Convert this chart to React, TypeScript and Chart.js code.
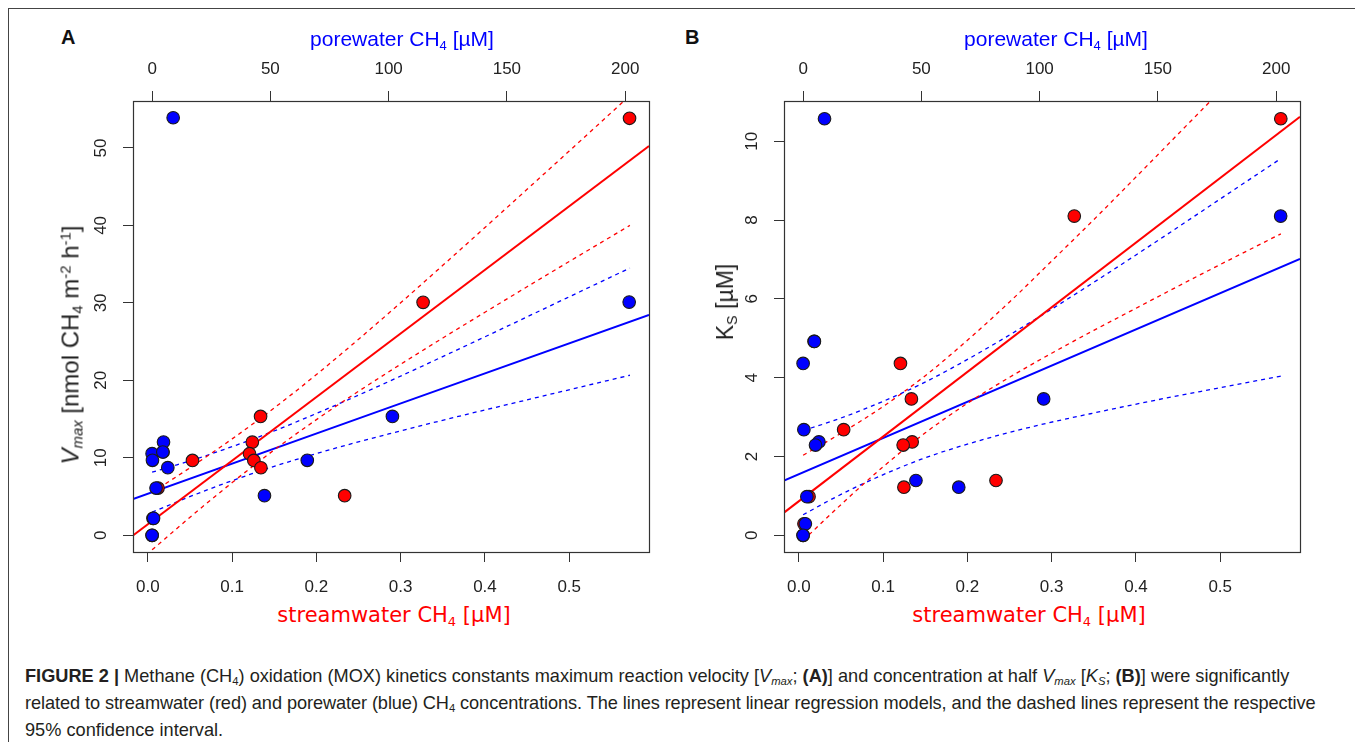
import React, { useEffect, useRef } from "react";
import { Chart, registerables } from "chart.js";

Chart.register(...registerables);

const FONT = "'Liberation Sans', Arial, Helvetica, sans-serif";
const DEJAVU = "'DejaVu Sans', Verdana, sans-serif";
const RED = "#ff0000";
const BLUE = "#0000ff";
const INK = "#222222";

// ---------- axis ranges ----------
const streamRange = [-0.0177, 0.5947];
const poreRange = [-8.08, 210.08];
const vmaxRange = [-2.156, 56.06];
const ksRange = [-0.424, 11.02];

// ---------- Panel A : Vmax ----------
const redStreamA = [0.0529, 0.1239, 0.1206, 0.1257, 0.1341, 0.1337, 0.2335, 0.3266, 0.5716, 0.018, 0.012, 0.006, 0.005];
const redVmaxA = [9.66, 12.02, 10.53, 9.66, 8.72, 15.34, 5.11, 30.07, 53.83, 10.75, 6.1, 2.19, 0];
const bluePoreA = [0, 0.15, 4.82, 4.52, 6.63, 1.66, 0.6, 0, 47.5, 65.6, 101.6, 8.9, 201.7];
const blueVmaxA = [10.54, 9.68, 12.04, 10.75, 8.73, 6.1, 2.19, 0, 5.12, 9.68, 15.35, 53.9, 30.1];

// regression lines (values at the two plot edges)
const redFitA = [-0.03, 50.24];
const blueFitA = [4.68, 28.46];

// 95% confidence bands
const streamCIx = [0.005, 0.05, 0.1, 0.15, 0.2, 0.25, 0.3, 0.35, 0.4, 0.45, 0.5, 0.572];
const poreCIx = [0, 10, 25, 50, 75, 100, 125, 150, 175, 202];
const redUpA = [5.54, 8.72, 12.45, 16.45, 20.75, 25.31, 30.02, 34.85, 39.73, 44.66, 49.6, 56.76];
const redLoA = [-1.88, 2.33, 6.81, 11.03, 14.93, 18.59, 22.08, 25.47, 28.79, 32.08, 35.34, 40.0];
const blueUpA = [8.14, 9.05, 10.51, 13.28, 16.45, 19.84, 23.37, 26.96, 30.59, 34.5];
const blueLoA = [2.98, 4.25, 6.06, 8.74, 11.03, 13.08, 15.01, 16.86, 18.69, 20.66];

// ---------- Panel B : Ks ----------
const redStreamB = [0.1205, 0.1335, 0.0531, 0.1344, 0.1237, 0.1246, 0.2339, 0.3268, 0.5719, 0.018, 0.012, 0.006, 0.005];
const redKsB = [4.36, 3.46, 2.68, 2.37, 2.29, 1.22, 1.39, 8.1, 10.57, 4.92, 0.98, 0.29, 0];
const bluePoreB = [4.77, 0, 0.32, 6.67, 5.24, 1.59, 0.95, 0, 47.7, 65.8, 101.7, 9.05, 201.9];
const blueKsB = [4.92, 4.36, 2.68, 2.37, 2.29, 0.98, 0.29, 0, 1.39, 1.22, 3.46, 10.57, 8.1];

const redFitB = [0.576, 10.62];
const blueFitB = [1.386, 7.01];

const redUpB = [2.03, 2.59, 3.27, 4.05, 4.95, 5.92, 6.96, 8.01, 9.09, 10.18, 11.27, 12.85];
const redLoB = [-0.13, 0.78, 1.74, 2.6, 3.35, 4.01, 4.62, 5.2, 5.76, 6.32, 6.87, 7.65];
const blueUpB = [2.66, 2.85, 3.18, 3.84, 4.65, 5.55, 6.5, 7.48, 8.48, 9.56];
const blueLoB = [0.52, 0.85, 1.3, 1.93, 2.41, 2.8, 3.13, 3.44, 3.73, 4.04];

// tick steps
const yStepA = 10;
const yStepB = 2;
const streamStep = 0.1;
const poreStep = 50;

const zip = (xs: number[], ys: number[]) => xs.map((x, i) => ({ x, y: ys[i] }));

const boxPlugin = {
  id: "rbox",
  afterDatasetsDraw(chart: any) {
    const { ctx, chartArea: a } = chart;
    ctx.save();
    ctx.strokeStyle = "#333";
    ctx.lineWidth = 1.2;
    ctx.strokeRect(Math.round(a.left) + 0.5, Math.round(a.top) + 0.5, Math.round(a.right - a.left), Math.round(a.bottom - a.top));
    ctx.restore();
  },
};

function lineDs(data: any[], color: string, axis: string, dashed: boolean) {
  return {
    type: "line",
    data,
    xAxisID: axis,
    yAxisID: "y",
    borderColor: color,
    backgroundColor: color,
    borderWidth: dashed ? 1.3 : 2,
    borderDash: dashed ? [4, 4] : [],
    pointRadius: 0,
    fill: false,
    cubicInterpolationMode: "monotone",
    capBezierPoints: false,
    clip: 0,
    order: 5,
  };
}

function pointDs(data: any[], color: string, axis: string, order: number) {
  return {
    type: "scatter",
    data,
    xAxisID: axis,
    yAxisID: "y",
    pointRadius: 6.3,
    pointBackgroundColor: color,
    pointBorderColor: "#1a1a1a",
    pointBorderWidth: 1.1,
    showLine: false,
    clip: false,
    order,
  };
}

function tickFont() {
  return { family: FONT, size: 17 };
}

function buildConfig(p: any) {
  return {
    type: "scatter",
    data: {
      datasets: [
        lineDs(zip(streamRange, p.redFit), RED, "x", false),
        lineDs(zip(streamCIx, p.redUp), RED, "x", true),
        lineDs(zip(streamCIx, p.redLo), RED, "x", true),
        lineDs(zip(poreRange, p.blueFit), BLUE, "x2", false),
        lineDs(zip(poreCIx, p.blueUp), BLUE, "x2", true),
        lineDs(zip(poreCIx, p.blueLo), BLUE, "x2", true),
        pointDs(zip(p.redX, p.redY), RED, "x", 2),
        pointDs(zip(p.blueX, p.blueY), BLUE, "x2", 1),
      ],
    },
    options: {
      responsive: false,
      animation: false,
      events: [],
      layout: { padding: { left: 0, top: 0, bottom: 0, right: 10 } },
      plugins: { legend: { display: false }, tooltip: { enabled: false } },
      scales: {
        x: {
          type: "linear",
          position: "bottom",
          min: streamRange[0],
          max: streamRange[1],
          afterFit: (s: any) => { s.height = 50; },
          border: { display: false },
          grid: { drawOnChartArea: false, drawTicks: true, tickLength: 10, color: "#333", lineWidth: 1 },
          ticks: {
            stepSize: streamStep, includeBounds: false, autoSkip: false, maxRotation: 0, minRotation: 0,
            padding: 15, color: INK, font: tickFont(),
            callback: (v: any) => Number(v).toFixed(1),
          },
        },
        x2: {
          type: "linear",
          axis: "x",
          position: "top",
          min: poreRange[0],
          max: poreRange[1],
          afterFit: (s: any) => { s.height = 60; },
          border: { display: false },
          grid: { drawOnChartArea: false, drawTicks: true, tickLength: 10, color: "#333", lineWidth: 1 },
          ticks: {
            stepSize: poreStep, includeBounds: false, autoSkip: false, maxRotation: 0, minRotation: 0,
            padding: 11, color: INK, font: tickFont(),
            callback: (v: any) => String(Math.round(Number(v))),
          },
        },
        y: {
          type: "linear",
          position: "left",
          min: p.yRange[0],
          max: p.yRange[1],
          afterFit: (s: any) => { s.width = 50; },
          border: { display: false },
          grid: { drawOnChartArea: false, drawTicks: true, tickLength: 10, color: "#333", lineWidth: 1 },
          ticks: {
            stepSize: p.yStep, includeBounds: false, autoSkip: false, minRotation: 90, maxRotation: 90,
            crossAlign: "center", padding: 12.5, color: INK, font: tickFont(),
            callback: (v: any) => String(Math.round(Number(v))),
          },
        },
      },
    },
    plugins: [boxPlugin],
  } as any;
}

const subStyle: React.CSSProperties = { fontSize: "0.62em", verticalAlign: "baseline", position: "relative", top: "0.3em" };
const supStyle: React.CSSProperties = { fontSize: "0.62em", verticalAlign: "baseline", position: "relative", top: "-0.55em" };
const Sub = ({ children }: any) => <span style={subStyle}>{children}</span>;
const Sup = ({ children }: any) => <span style={supStyle}>{children}</span>;

function Label(props: { cx: number; base: number; size: number; family: string; color: string; weight?: string; children: any; align?: "center" | "left" }) {
  const { cx, base, size, family, color, weight, children, align } = props;
  return (
    <div
      style={{
        position: "absolute",
        left: cx,
        top: base - 0.8465 * size,
        transform: align === "left" ? undefined : "translateX(-50%)",
        fontFamily: family,
        fontSize: size,
        lineHeight: `${size}px`,
        color,
        fontWeight: weight || "normal",
        whiteSpace: "nowrap",
      }}
    >
      {children}
    </div>
  );
}

function VLabel(props: { cx: number; cy: number; size: number; children: any }) {
  const { cx, cy, size, children } = props;
  return (
    <div
      style={{
        position: "absolute",
        left: cx,
        top: cy,
        transform: "translate(-50%, -50%) rotate(-90deg)",
        fontFamily: FONT,
        fontSize: size,
        lineHeight: `${size}px`,
        color: INK,
        whiteSpace: "nowrap",
      }}
    >
      {children}
    </div>
  );
}

export default function App() {
  const refA = useRef<HTMLCanvasElement>(null);
  const refB = useRef<HTMLCanvasElement>(null);

  useEffect(() => {
    document.body.style.margin = "0";
    const a = new Chart(
      refA.current as HTMLCanvasElement,
      buildConfig({
        redX: redStreamA, redY: redVmaxA, blueX: bluePoreA, blueY: blueVmaxA,
        redFit: redFitA, blueFit: blueFitA, redUp: redUpA, redLo: redLoA, blueUp: blueUpA, blueLo: blueLoA,
        yRange: vmaxRange, yStep: yStepA,
      })
    );
    const b = new Chart(
      refB.current as HTMLCanvasElement,
      buildConfig({
        redX: redStreamB, redY: redKsB, blueX: bluePoreB, blueY: blueKsB,
        redFit: redFitB, blueFit: blueFitB, redUp: redUpB, redLo: redLoB, blueUp: blueUpB, blueLo: blueLoB,
        yRange: ksRange, yStep: yStepB,
      })
    );
    return () => {
      a.destroy();
      b.destroy();
    };
  }, []);

  const capSize = 18.2;
  return (
    <div style={{ position: "relative", width: 1355, height: 742, overflow: "hidden", background: "#fff" }}>
      <div style={{ position: "absolute", left: 8, top: 8, width: 1500, height: 900, borderTop: "1px solid #444", borderLeft: "1px solid #444" }} />

      <canvas ref={refA} width={576} height={561} style={{ position: "absolute", left: 83, top: 41, width: 576, height: 561 }} />
      <canvas ref={refB} width={576} height={561} style={{ position: "absolute", left: 734, top: 41, width: 576, height: 561 }} />

      {/* panel letters */}
      <Label cx={61} base={44} size={20} family={FONT} color="#111" weight="bold" align="left">A</Label>
      <Label cx={685} base={44} size={20} family={FONT} color="#111" weight="bold" align="left">B</Label>

      {/* top axis titles */}
      <Label cx={402} base={45.5} size={21} family={FONT} color={BLUE}>porewater CH<Sub>4</Sub> [µM]</Label>
      <Label cx={1056} base={45.5} size={21} family={FONT} color={BLUE}>porewater CH<Sub>4</Sub> [µM]</Label>

      {/* bottom axis titles */}
      <Label cx={394} base={623} size={21} family={DEJAVU} color={RED}>streamwater CH<Sub>4</Sub> [µM]</Label>
      <Label cx={1029} base={623} size={21} family={DEJAVU} color={RED}>streamwater CH<Sub>4</Sub> [µM]</Label>

      {/* y axis titles */}
      <VLabel cx={72} cy={345} size={24}>
        <i>V</i><Sub><i>max</i></Sub> [nmol CH<Sub>4</Sub> m<Sup>-2</Sup> h<Sup>-1</Sup>]
      </VLabel>
      <VLabel cx={727} cy={302} size={23}>
        K<Sub>S</Sub> [µM]
      </VLabel>

      {/* caption */}
      <div
        style={{
          position: "absolute",
          left: 25,
          top: 663.9,
          fontFamily: FONT,
          fontSize: capSize,
          lineHeight: "25px",
          color: "#231f20",
          whiteSpace: "nowrap",
        }}
      >
        <b>FIGURE 2 |</b> Methane (CH<Sub>4</Sub>) oxidation (MOX) kinetics constants maximum reaction velocity [<i>V<Sub>max</Sub></i>; <b>(A)</b>] and concentration at half <i>V<Sub>max</Sub></i> [<i>K<Sub>S</Sub></i>; <b>(B)</b>] were significantly
        <br />
        <span style={{ letterSpacing: "-0.09px" }}>
          related to streamwater (red) and porewater (blue) CH<Sub>4</Sub> concentrations. The lines represent linear regression models, and the dashed lines represent the respective
        </span>
        <br />
        95% confidence interval.
      </div>
    </div>
  );
}
